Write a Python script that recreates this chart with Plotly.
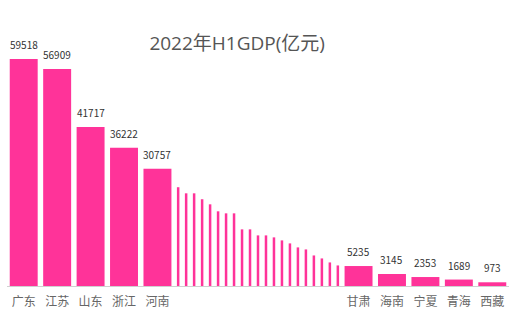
import plotly.graph_objects as go

# ---- data ----
provinces = ["广东", "江苏", "山东", "浙江", "河南",
             "四川", "湖北", "福建", "湖南", "安徽", "河北", "北京", "上海",
             "陕西", "江西", "重庆", "辽宁", "云南", "广西", "山西", "内蒙古",
             "贵州", "新疆", "天津", "黑龙江", "吉林",
             "甘肃", "海南", "宁夏", "青海", "西藏"]
gdp = [59518, 56909, 41717, 36222, 30757,
       25900, 24300, 24300, 22750, 21420, 19580, 19050, 19050,
       14850, 14850, 13270, 13270, 12750, 11960, 11170, 10120,
       9590, 8010, 7230, 6180, 5390,
       5235, 3145, 2353, 1689, 973]
highlight = [True] * 5 + [False] * 21 + [True] * 5

# ---- style / layout constants ----
BAR_COLOR = "#FF3399"
WIDE_SLOT = 1.0
NARROW_SLOT = 8 / 33.5
WIDE_BAR = 0.836
NARROW_BAR = 0.075
FONT = "Noto Sans CJK SC"
TITLE_FONT = "Open Sans, Noto Sans CJK SC"

# slot-based x positions
xs, widths = [], []
edge = 0.0
for h in highlight:
    slot = WIDE_SLOT if h else NARROW_SLOT
    xs.append(edge + slot / 2)
    widths.append(WIDE_BAR if h else NARROW_BAR)
    edge += slot
total = edge

fig = go.Figure()
fig.add_trace(go.Bar(
    x=xs, y=gdp, width=widths,
    marker=dict(color=BAR_COLOR, line=dict(width=0)),
    hovertext=provinces, hoverinfo="text+y",
))

for x, v, h in zip(xs, gdp, highlight):
    if h:
        fig.add_annotation(x=x, y=v, text=str(v), showarrow=False,
                           yanchor="bottom", yshift=5,
                           font=dict(family=FONT, size=10, color="#333333"))

tickvals = [x for x, h in zip(xs, highlight) if h]
ticktext = [p for p, h in zip(provinces, highlight) if h]

fig.update_layout(
    width=519, height=331,
    margin=dict(l=7, r=10, t=40, b=45),
    paper_bgcolor="white", plot_bgcolor="white",
    showlegend=False,
    title=dict(text="2022年H1GDP(亿元)", x=0.457, xref="container", xanchor="center",
               y=0.870, yref="container", yanchor="middle",
               font=dict(family=TITLE_FONT, size=19, color="#555555")),
    xaxis=dict(range=[0, total], tickvals=tickvals, ticktext=ticktext,
               showgrid=False, zeroline=False, showline=True,
               linecolor="#d0d0d0", linewidth=1, ticks="",
               ticklabelstandoff=5,
               tickfont=dict(family=FONT, size=12, color="#666666")),
    yaxis=dict(range=[0, 64500], visible=False, showgrid=False, zeroline=False),
    font=dict(family=FONT),
)

fig.write_html("out.html")
